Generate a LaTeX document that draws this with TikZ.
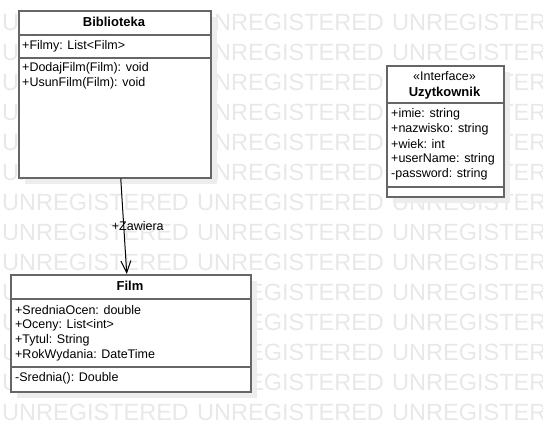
\documentclass[tikz,border=0pt]{standalone}
\usepackage{fontspec}
\setmainfont{Liberation Sans}
\usetikzlibrary{arrows.meta}
\begin{document}
\begin{tikzpicture}[x=1pt,y=-1pt]
        \tikzstyle{klasa}=[rectangle,draw=black!60,line width=1.5pt,fill=white,anchor=north west,inner sep=0pt]
        \tikzstyle{cien}=[rectangle,fill=black!7,anchor=north west,inner sep=0pt]
        \tikzstyle{nazwa}=[inner sep=0pt,font=\fontsize{13}{15}\selectfont\bfseries]
        \tikzstyle{pole}=[anchor=west,inner sep=0pt,font=\fontsize{12.5}{15}\selectfont]
        \tikzstyle{linia}=[draw=black!60,line width=1.5pt]
        \tikzstyle{znak}=[anchor=west,inner sep=0pt,text=black!9,font=\fontsize{23.5}{25}\selectfont]
        \tikzstyle{edge}=[draw,line width=1pt,-{Straight Barb[length=12pt,width=10pt]}]
        \useasboundingbox (0,0) rectangle (543,431);
        % tlo
        \foreach \y in {0,...,13}
          \foreach \x in {0,1,2}
            \node [znak] (wm\x-\y) at (2+195*\x,22+30*\y) {UNREGISTERED};
       \begin{scope}
         \node [cien,minimum width=192,minimum height=167] (bibS) at (25,17) {};
         \node [klasa,minimum width=192,minimum height=167] (bib) at (18,10) {};
         \node [nazwa] (bibN) at (114,22) {Biblioteka};
         \draw [linia] (18,35) -- (210,35);
         \node [pole] (bibA1) at (22,46) {+Filmy: List<Film>};
         \draw [linia] (18,58) -- (210,58);
         \node [pole] (bibM1) at (22,68) {+DodajFilm(Film): void};
         \node [pole] (bibM2) at (22,83) {+UsunFilm(Film): void};
        \end{scope}
       \begin{scope}
         \node [cien,minimum width=117,minimum height=131] (uzyS) at (393,72) {};
         \node [klasa,minimum width=117,minimum height=131] (uzy) at (386,65) {};
         \node [nazwa,font=\fontsize{12.5}{15}\selectfont] (uzyI) at (444.5,76) {«Interface»};
         \node [nazwa] (uzyN) at (444.5,93) {Uzytkownik};
         \draw [linia] (386,103) -- (503,103);
         \node [pole] (uzyA1) at (391,114) {+imie: string};
         \node [pole] (uzyA2) at (391,129) {+nazwisko: string};
         \node [pole] (uzyA3) at (391,144) {+wiek: int};
         \node [pole] (uzyA4) at (391,159) {+userName: string};
         \node [pole] (uzyA5) at (391,174) {-password: string};
         \draw [linia] (386,187) -- (503,187);
        \end{scope}
       \begin{scope}
         \node [cien,minimum width=240,minimum height=117] (filmS) at (17,281) {};
         \node [klasa,minimum width=240,minimum height=117] (film) at (10,274) {};
         \node [nazwa] (filmN) at (130,286) {Film};
         \draw [linia] (10,299) -- (250,299);
         \node [pole] (filmA1) at (15,310) {+SredniaOcen: double};
         \node [pole] (filmA2) at (15,325) {+Oceny: List<int>};
         \node [pole] (filmA3) at (15,340) {+Tytul: String};
         \node [pole] (filmA4) at (15,355) {+RokWydania: DateTime};
         \draw [linia] (10,367) -- (250,367);
         \node [pole] (filmM1) at (15,378) {-Srednia(): Double};
        \end{scope}
         \path[edge] ([xshift=6pt]bib.south) -- node[pole,anchor=center,xshift=14pt] (zaw) {+Zawiera} ([xshift=-4pt]film.north);
      \end{tikzpicture}
\end{document}
